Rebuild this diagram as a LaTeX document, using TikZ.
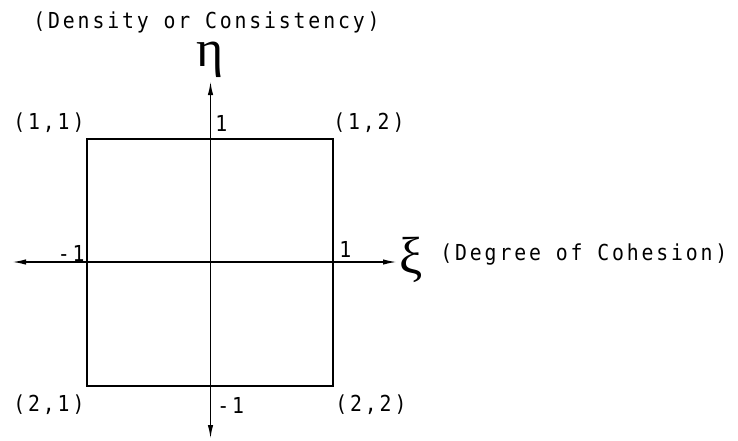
\documentclass[tikz,border=0pt]{standalone}
\usepackage{fontspec}
\usetikzlibrary{arrows.meta, positioning}
\newfontfamily\plotfont{DejaVu Sans Mono}[FakeStretch=0.9, LetterSpace=13]
\newfontfamily\greekfont{Liberation Serif}

\begin{document}
\begin{tikzpicture}[
  x=0.5pt, y=-0.5pt,
  lbl/.style={inner sep=0pt, font=\plotfont\fontsize{11}{13}\selectfont},
  greek/.style={inner sep=0pt, text height=0.45em, text depth=0.22em, font=\greekfont\fontsize{26}{28}\selectfont},
  axis/.style={{Latex[length=7pt,width=2.7pt]}-{Latex[length=7pt,width=2.7pt]}, line width=0.8pt},
  frame/.style={draw, line width=0.8pt, minimum width=123pt, minimum height=123.5pt, inner sep=0pt}
]
  \useasboundingbox (0,0) rectangle (738,440);

  % unit square
  \node[frame] (box) at (210,262.5) {};

  % axes
  \coordinate (xl) at (12,262);
  \coordinate (xr) at (397,262);
  \coordinate (yt) at (210.5,81);
  \coordinate (yb) at (210.5,439);
  \draw[axis] (xl) -- (xr);
  \draw[axis] (yt) -- (yb);

  % axis names
  \node[greek, anchor=base] (eta) at (210,66.5) {η};
  \node[greek, anchor=base] (xi) at (411,273) {ξ};
  \node[lbl, anchor=west] (ytitle) at (33,22) {(Density or Consistency)};
  \node[lbl, anchor=west] (xtitle) at (440,254) {(Degree of Cohesion)};

  % ticks
  \node[lbl, anchor=west] (ytop) at (215,123) {1};
  \node[lbl, anchor=west] (ybot) at (217,405) {-1};
  \node[lbl, anchor=east] (xleft) at (85,253) {-1};
  \node[lbl, anchor=west] (xright) at (339,249) {1};

  % corners
  \node[lbl, anchor=west] (c11) at (13,123) {(1,1)};
  \node[lbl, anchor=west] (c12) at (333,123) {(1,2)};
  \node[lbl, anchor=west] (c21) at (13,405) {(2,1)};
  \node[lbl, anchor=west] (c22) at (335,405) {(2,2)};
\end{tikzpicture}
\end{document}
